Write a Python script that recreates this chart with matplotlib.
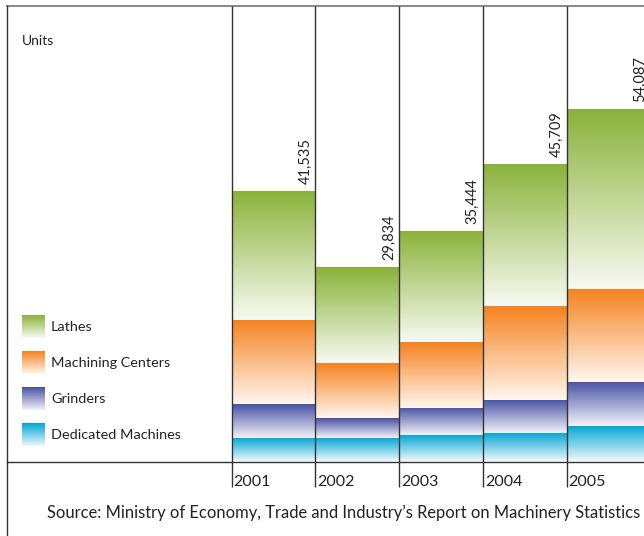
"""
Stacked machine-tool production by year, drawn with gradient-filled bars.

Output:
    out.png
"""

import numpy as np
import matplotlib
matplotlib.use("Agg")
import matplotlib.pyplot as plt
from matplotlib.colors import LinearSegmentedColormap
from matplotlib.lines import Line2D

plt.rcParams["font.family"] = ["Lato", "DejaVu Sans"]

# Data (units)
YEARS = ["2001", "2002", "2003", "2004", "2005"]
TOTALS = [41535, 29834, 35444, 45709, 54087]
DEDICATED = [3600, 3600, 4070, 4380, 5450]
GRINDERS = [5220, 3070, 4150, 5070, 6760]
MACHINING = [12900, 8440, 10130, 14430, 14280]
LATHES = [19815, 14724, 17094, 21829, 27597]

SERIES_NAMES = ["Lathes", "Machining Centers", "Grinders", "Dedicated Machines"]

# top colour of each gradient, fading towards white at the bottom
COLOURS = {
    "Lathes": ("#8ab23a", "#f8faf2"),
    "Machining Centers": ("#f5821f", "#fff7ef"),
    "Grinders": ("#4852a3", "#f3f2fa"),
    "Dedicated Machines": ("#00a5d3", "#eef8fc"),
}

W_PX, H_PX = 644, 536
GRAD = np.linspace(0, 1, 256).reshape(-1, 1)


def make_cmap(name):
    top, bottom = COLOURS[name]
    return LinearSegmentedColormap.from_list(name, [bottom, top])


def gradient_bars(ax, x, heights, bottoms, name):
    """Draw bars with a vertical colour gradient clipped to each bar."""
    bars = ax.bar(x, heights, bottom=bottoms, width=1.0, align="edge",
                  facecolor="none", edgecolor="none")
    cmap = make_cmap(name)
    for bar in bars:
        x0, y0 = bar.get_x(), bar.get_y()
        x1, y1 = x0 + bar.get_width(), y0 + bar.get_height()
        im = ax.imshow(GRAD, extent=[x0, x1, y0, y1], origin="lower",
                       aspect="auto", cmap=cmap, interpolation="bicubic",
                       zorder=1)
        im.set_clip_path(bar)


fig = plt.figure(figsize=(W_PX / 100, H_PX / 100), dpi=100)

# axes frame in pixels: left 7, top 6, baseline 461.5
left, top, base = 7, 6, 461.5
ax = fig.add_axes([left / W_PX, (H_PX - base) / H_PX,
                   1 - left / W_PX, (base - top) / H_PX])

x = np.arange(len(YEARS))
stack = [("Dedicated Machines", DEDICATED), ("Grinders", GRINDERS),
         ("Machining Centers", MACHINING), ("Lathes", LATHES)]
bottom = np.zeros(len(YEARS))
for name, vals in stack:
    vals = np.array(vals, dtype=float)
    gradient_bars(ax, x, vals, bottom, name)
    bottom += vals

bar_px = 83.7
px_per_unit = 270.5 / 41535
ax.set_xlim((left - 231.7) / bar_px, (W_PX - 231.7) / bar_px)
ymax = (base - top) / px_per_unit
ax.set_ylim(0, ymax)

# column dividers running through the year labels
ax.vlines(np.arange(len(YEARS) + 1), -25.5 / px_per_unit, ymax,
          colors="#333333", linewidth=1.0, clip_on=False, zorder=3)

for s in ["left", "right", "bottom"]:
    ax.spines[s].set_visible(False)
ax.spines["top"].set_color("#8c8c8c")
ax.spines["top"].set_linewidth(1.5)
ax.axhline(0, color="#333333", linewidth=1.0, zorder=3, clip_on=False)
ax.set_xticks([])
ax.set_yticks([])

# left border runs to the bottom of the figure
fig.add_artist(Line2D([left / W_PX] * 2, [0, 1 - top / H_PX],
                      transform=fig.transFigure, color="#333333", linewidth=1.0))

# value labels and year labels
for i, total in enumerate(TOTALS):
    ax.annotate(f"{total:,}", xy=(i + 1, total), xytext=(-3, 7),
                textcoords="offset pixels", rotation=90, ha="right",
                va="bottom", fontsize=10.5, color="#222222",
                annotation_clip=False)
    ax.annotate(YEARS[i], xy=(i, 0), xytext=(2, -20),
                textcoords="offset pixels", ha="left", va="center",
                fontsize=11.5, color="#222222", annotation_clip=False)

fig.text(22 / W_PX, 1 - 41 / H_PX, "Units", ha="left", va="center",
         fontsize=10, color="#222222")

# legend with gradient swatches
for k, name in enumerate(SERIES_NAMES):
    y_top = 315 + 36 * k
    sw = fig.add_axes([22 / W_PX, 1 - (y_top + 23) / H_PX, 23 / W_PX, 23 / H_PX])
    sw.imshow(GRAD, origin="lower", aspect="auto", cmap=make_cmap(name))
    sw.axis("off")
    fig.text(51 / W_PX, 1 - (y_top + 12) / H_PX, name, ha="left",
             va="center", fontsize=10.4, color="#222222")

fig.text(47 / W_PX, 1 - 513 / H_PX,
         "Source: Ministry of Economy, Trade and Industry\u2019s Report on Machinery Statistics",
         ha="left", va="center", fontsize=11.9, color="#222222")

fig.savefig("out.png", dpi=100)
plt.close(fig)
